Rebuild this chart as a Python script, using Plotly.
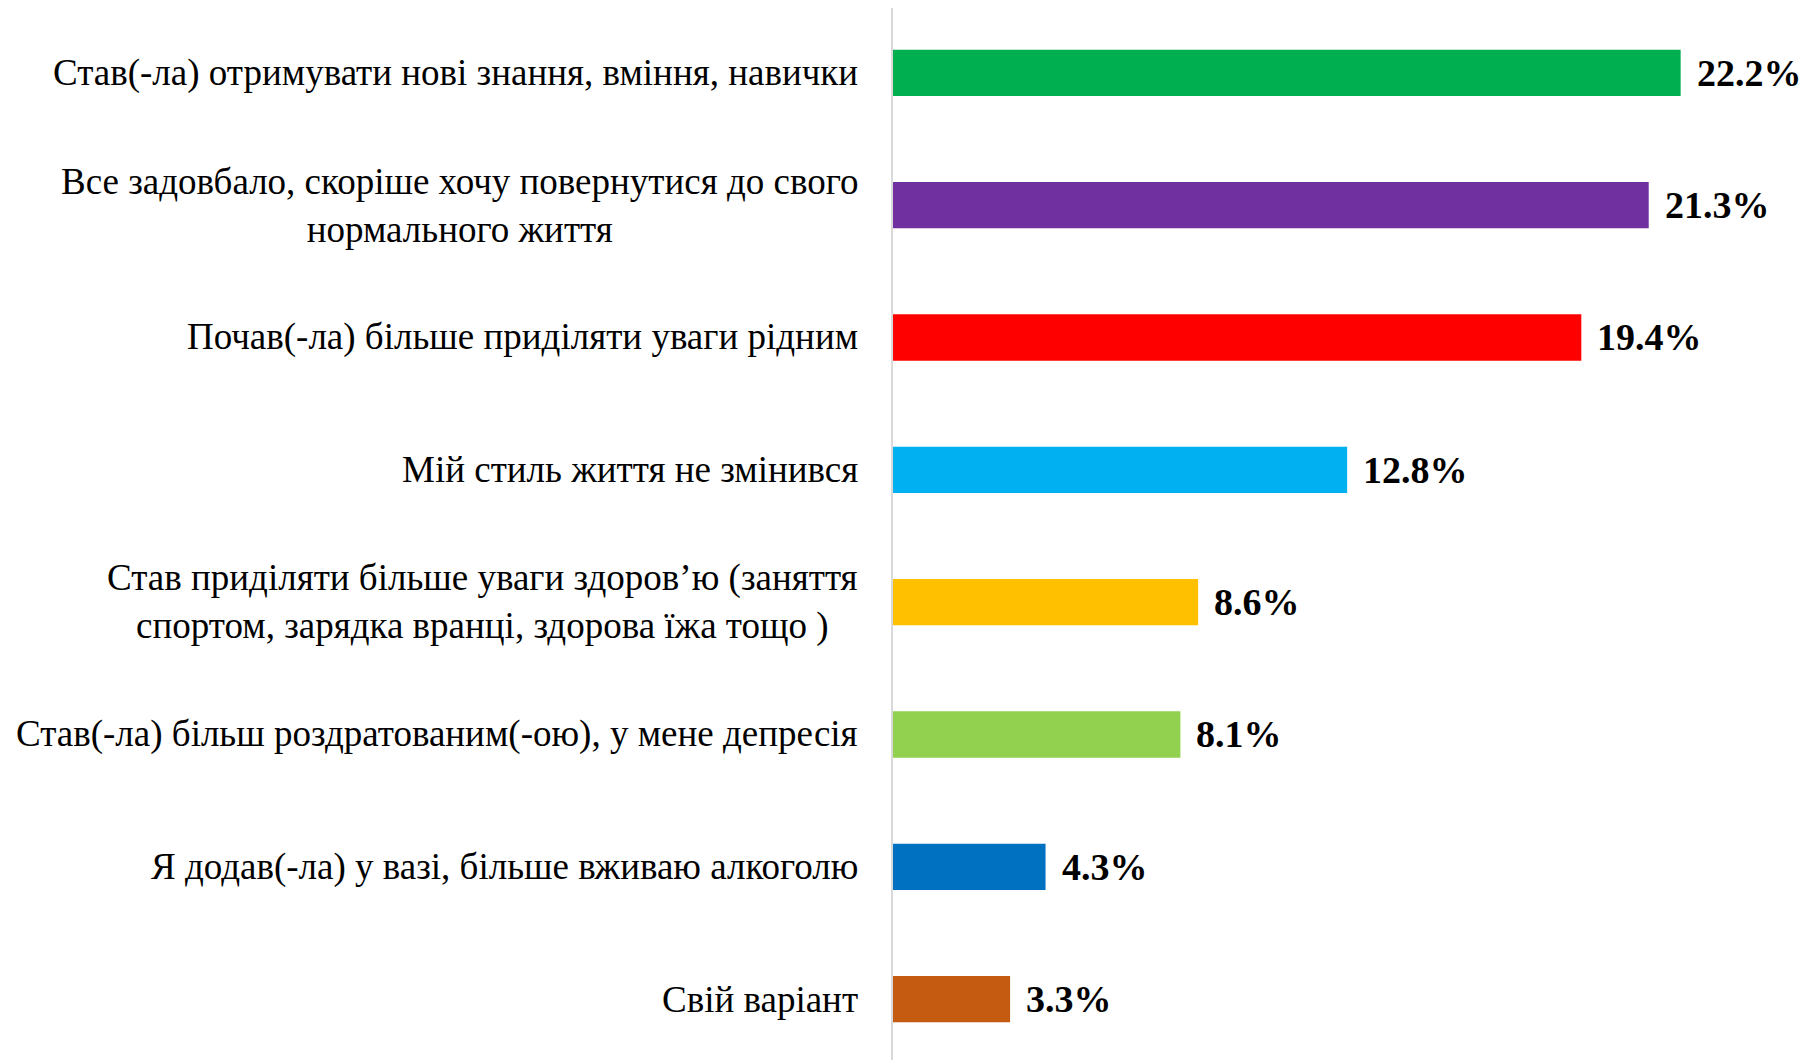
import plotly.graph_objects as go

categories = [
    "Став(-ла) отримувати нові знання, вміння, навички",
    "Все задовбало, скоріше хочу повернутися до свого<br>нормального життя",
    "Почав(-ла) більше приділяти уваги рідним",
    "Мій стиль життя не змінився",
    "Став приділяти більше уваги здоров’ю (заняття<br>спортом, зарядка вранці, здорова їжа тощо )",
    "Став(-ла) більш роздратованим(-ою), у мене депресія",
    "Я додав(-ла) у вазі, більше вживаю алкоголю",
    "Свій варіант",
]
values = [22.2, 21.3, 19.4, 12.8, 8.6, 8.1, 4.3, 3.3]
colors = ["#00B050", "#7030A0", "#FF0000", "#00B0F0", "#FFC000", "#92D050", "#0070C0", "#C55A11"]

FONT = "Liberation Serif, Times New Roman, serif"
LABEL_SIZE = 37
VALUE_SIZE = 38

fig = go.Figure(go.Bar(
    x=values,
    y=categories,
    orientation="h",
    marker=dict(color=colors, line=dict(width=0)),
    width=0.35,
    hoverinfo="skip",
))

annotations = []
for c, v in zip(categories, values):
    annotations.append(dict(
        x=v, y=c, xref="x", yref="y", xanchor="left", yanchor="middle",
        xshift=14, text=f"<b>{v:.1f}%</b>", showarrow=False,
        font=dict(family=FONT, size=VALUE_SIZE, color="#000000"),
    ))
    annotations.append(dict(
        x=0, y=c, xref="paper", yref="y", xanchor="right", yanchor="middle",
        xshift=-33, text=c, showarrow=False, align="center",
        font=dict(family=FONT, size=LABEL_SIZE, color="#000000"),
    ))

fig.update_layout(
    width=1810, height=1052,
    margin=dict(l=885, r=38, t=0, b=0),
    paper_bgcolor="white", plot_bgcolor="white",
    showlegend=False,
    xaxis=dict(range=[0, 25], visible=False, fixedrange=True),
    yaxis=dict(
        categoryorder="array", categoryarray=categories,
        range=[7.46, -0.49], autorange=False, showticklabels=False,
        showline=True, linecolor="#D9D9D9", linewidth=2,
        showgrid=False, zeroline=False, ticks="",
    ),
    annotations=annotations,
)

fig.write_html("out.html")
